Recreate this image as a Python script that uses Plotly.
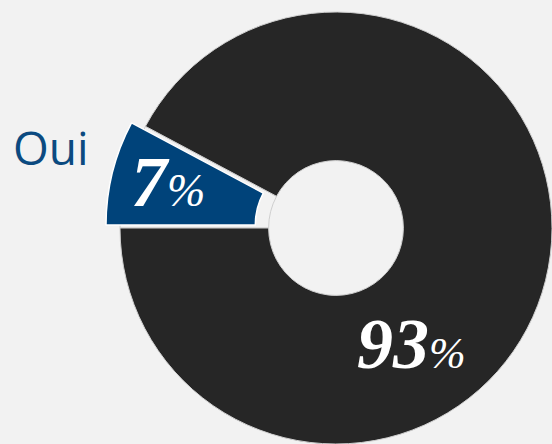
import plotly.graph_objects as go

# Data
labels = ["Oui", "Non"]
values = [7.8, 92.2]          # slice shares as drawn
pct_labels = ["7%", "93%"]    # labels as printed on the chart
slice_colors = ["#00437a", "#262626"]
bg = "#f2f2f2"

W, H = 552, 444

def px_domain(cx, cy, r):
    return dict(x=[(cx - r) / W, (cx + r) / W], y=[1 - (cy + r) / H, 1 - (cy - r) / H])

fig = go.Figure()

# main donut (dark slice)
fig.add_trace(go.Pie(
    labels=labels, values=values, sort=False, direction="clockwise", rotation=-90,
    hole=0.312,
    marker=dict(colors=["rgba(0,0,0,0)", slice_colors[1]], line=dict(color="#cfcfcf", width=1)),
    textinfo="none", hoverinfo="label", showlegend=False,
    domain=px_domain(336, 228, 216),
))
# pulled-out slice (Oui)
fig.add_trace(go.Pie(
    labels=labels, values=values, sort=False, direction="clockwise", rotation=-90,
    hole=0.312,
    marker=dict(colors=[slice_colors[0], "rgba(0,0,0,0)"],
                line=dict(color=["#ffffff", "rgba(0,0,0,0)"], width=[1.5, 0])),
    textinfo="none", hoverinfo="label", showlegend=False,
    domain=px_domain(323, 225, 217),
))

def pct_text(s, big, small):
    num = s.rstrip("%")
    return (f"<b><i><span style='font-size:{big}px'>{num}</span></i></b>"
            f"<i><span style='font-size:{small}px'>%</span></i>")

common = dict(xref="paper", yref="paper", showarrow=False, xanchor="center", yanchor="middle")
fig.add_annotation(x=51 / W, y=1 - 147 / H, text=labels[0],
                   font=dict(family="Open Sans", size=46, color="#0b4a80"), **common)
fig.add_annotation(x=168 / W, y=1 - 182 / H, text=pct_text(pct_labels[0], 72, 46),
                   font=dict(family="Liberation Serif", color="white"), **common)
fig.add_annotation(x=411 / W, y=1 - 344 / H, text=pct_text(pct_labels[1], 72, 44),
                   font=dict(family="Liberation Serif", color="white"), **common)

fig.update_layout(
    width=W, height=H, margin=dict(l=0, r=0, t=0, b=0),
    paper_bgcolor=bg, plot_bgcolor=bg, showlegend=False,
)
fig.write_html("out.html", config={"displayModeBar": False},
               post_script="document.body.style.margin='0px';document.body.style.background='%s';" % bg)
